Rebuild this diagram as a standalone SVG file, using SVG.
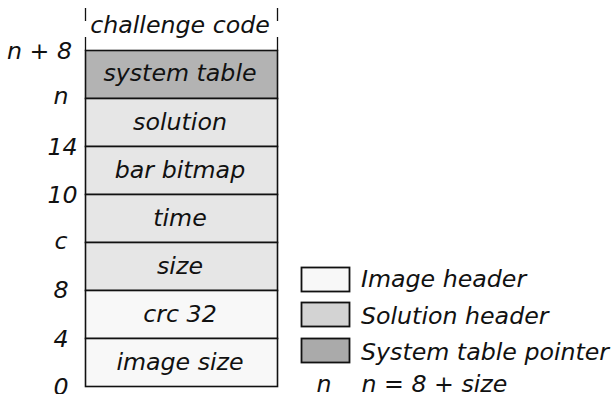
<svg xmlns="http://www.w3.org/2000/svg" width="616" height="394" viewBox="0 0 616 394">
  <style>
    text { font-family: "DejaVu Sans", "Verdana", sans-serif; font-style: italic; font-size: 23.7px; fill: #111; }
    .mid { text-anchor: middle; }
    .cell { stroke: #111; stroke-width: 1.6; }
    .img { fill: #f8f8f8; }
    .sol { fill: #e6e6e6; }
    .sys { fill: #b3b3b3; }
    .key { stroke: #111; stroke-width: 1.8; }
    .tick { stroke: #111; stroke-width: 1.3; }
  </style>

  <!-- side rails of the code area above the table -->
  <g id="rails">
    <line class="tick" x1="85.5" y1="8" x2="85.5" y2="21"/>
    <line class="tick" x1="85.5" y1="37" x2="85.5" y2="51"/>
    <line class="tick" x1="277.5" y1="8" x2="277.5" y2="21"/>
    <line class="tick" x1="277.5" y1="37" x2="277.5" y2="51"/>
    <text class="mid" x="180" y="33">challenge code</text>
  </g>

  <!-- memory layout rows, top to bottom -->
  <g id="row-system-table">
    <rect class="cell sys" x="85.5" y="50.5" width="192" height="48"/>
    <text class="mid" x="180" y="81">system table</text>
  </g>
  <g id="row-solution">
    <rect class="cell sol" x="85.5" y="98.5" width="192" height="48"/>
    <text class="mid" x="180" y="129.5">solution</text>
  </g>
  <g id="row-bar-bitmap">
    <rect class="cell sol" x="85.5" y="146.5" width="192" height="48"/>
    <text class="mid" x="180" y="177.5">bar bitmap</text>
  </g>
  <g id="row-time">
    <rect class="cell sol" x="85.5" y="194.5" width="192" height="48"/>
    <text class="mid" x="180" y="225.5">time</text>
  </g>
  <g id="row-size">
    <rect class="cell sol" x="85.5" y="242.5" width="192" height="48"/>
    <text class="mid" x="180" y="273.5">size</text>
  </g>
  <g id="row-crc32">
    <rect class="cell img" x="85.5" y="290.5" width="192" height="48"/>
    <text class="mid" x="180" y="321.5">crc 32</text>
  </g>
  <g id="row-image-size">
    <rect class="cell img" x="85.5" y="338.5" width="192" height="48"/>
    <text class="mid" x="180" y="369.5">image size</text>
  </g>

  <!-- offsets -->
  <g id="offsets">
    <text x="7" y="58.5">n + 8</text>
    <text x="53.5" y="104">n</text>
    <text x="47.5" y="155">14</text>
    <text x="47.5" y="202.5">10</text>
    <text x="54.5" y="249">c</text>
    <text x="53.5" y="298">8</text>
    <text x="53.5" y="346.5">4</text>
    <text x="53.5" y="394.5">0</text>
  </g>

  <!-- legend -->
  <g id="legend-image-header">
    <rect class="key img" x="301.5" y="267.5" width="48" height="24"/>
    <text x="361" y="287">Image header</text>
  </g>
  <g id="legend-solution-header">
    <rect class="key" fill="#d3d3d3" x="301.5" y="302.5" width="48" height="24"/>
    <text x="361" y="323.5">Solution header</text>
  </g>
  <g id="legend-system-table-pointer">
    <rect class="key" fill="#aaaaaa" x="301.5" y="338.5" width="48" height="24"/>
    <text x="361" y="360">System table pointer</text>
  </g>
  <g id="legend-n">
    <text x="316.5" y="391.5">n</text>
    <text x="361.5" y="391.5">n = 8 + size</text>
  </g>

  <g id="connectors"/>
</svg>
